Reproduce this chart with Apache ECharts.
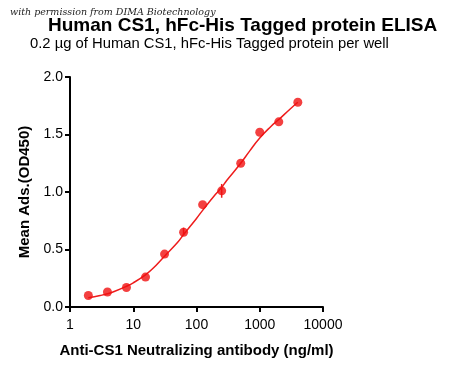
<!DOCTYPE html>
<html><head><meta charset="utf-8">
<script src="https://cdn.jsdelivr.net/npm/echarts@6/dist/echarts.min.js"></script>
<style>html,body{margin:0;padding:0;background:#fff}#c{width:450px;height:372px}</style>
</head><body><div id="c"></div>
<script>
var concentrations = [1.95, 3.91, 7.81, 15.63, 31.25, 62.5, 125, 250, 500, 1000, 2000, 4000];
var meanOD = [0.10, 0.13, 0.17, 0.26, 0.46, 0.65, 0.89, 1.01, 1.25, 1.52, 1.61, 1.78];
var errLow = [0.10, 0.13, 0.17, 0.26, 0.46, 0.63, 0.89, 0.95, 1.25, 1.52, 1.61, 1.78];
var errHigh = [0.10, 0.13, 0.17, 0.26, 0.46, 0.69, 0.89, 1.07, 1.25, 1.52, 1.61, 1.78];
var curveX = [1.95, 3, 3.9, 5, 7.8, 10, 15.6, 20, 31, 50, 62.5, 100, 125, 200, 250, 300, 500, 700, 1000, 1500, 2000, 3000, 4000];
var curveY = [0.08, 0.10, 0.115, 0.135, 0.18, 0.21, 0.28, 0.33, 0.44, 0.56, 0.63, 0.77, 0.84, 0.98, 1.04, 1.10, 1.25, 1.36, 1.47, 1.57, 1.63, 1.72, 1.78];
var xTicks = [1, 10, 100, 1000, 10000];
var yTicks = [0.0, 0.5, 1.0, 1.5, 2.0];

var chart = echarts.init(document.getElementById('c'));
var font = 'Liberation Sans, Arial, sans-serif';
chart.setOption({
  animation: false,
  graphic: [
    {type:'text', left: 10, top: 8, style:{text:'with permission from DIMA Biotechnology', font:'italic 9.5px "DejaVu Serif", serif', fill:'#222'}},
    {type:'text', left: 48, top: 16, style:{text:'Human CS1, hFc-His Tagged protein ELISA', font:'bold 19px "Liberation Sans", Arial, sans-serif', fill:'#000'}},
    {type:'text', left: 30, top: 36, style:{text:'0.2 \u00b5g of Human CS1, hFc-His Tagged protein per well', font:'14.8px "Liberation Sans", Arial, sans-serif', fill:'#000'}}
  ],
  grid: {left: 70, right: 127, top: 77, bottom: 65, containLabel: false},
  xAxis: {
    type: 'log', logBase: 10, min: 1, max: 10000,
    name: 'Anti-CS1 Neutralizing antibody (ng/ml)', nameLocation: 'middle', nameGap: 36,
    nameTextStyle: {fontFamily: font, fontWeight: 'bold', fontSize: 15, color: '#000'},
    axisLine: {lineStyle: {color: '#000', width: 2}},
    axisTick: {show: true, length: 5, lineStyle: {color: '#000', width: 2}},
    minorTick: {show: false},
    splitLine: {show: false},
    axisLabel: {fontFamily: font, fontSize: 14, color: '#000', margin: 11,
      formatter: function(v){ return xTicks.indexOf(Math.round(v)) >= 0 ? String(Math.round(v)) : ''; }}
  },
  yAxis: {
    type: 'value', min: 0, max: 2, interval: 0.5,
    name: 'Mean Ads.(OD450)', nameLocation: 'middle', nameGap: 37, nameRotate: 90,
    nameTextStyle: {fontFamily: font, fontWeight: 'bold', fontSize: 15, color: '#000'},
    axisLine: {show: true, lineStyle: {color: '#000', width: 2}},
    axisTick: {show: true, length: 5, lineStyle: {color: '#000', width: 2}},
    splitLine: {show: false},
    axisLabel: {fontFamily: font, fontSize: 14, color: '#000', margin: 7,
      formatter: function(v){ return yTicks.indexOf(v) >= 0 ? v.toFixed(1) : ''; }}
  },
  series: [
    {type: 'line', smooth: true, symbol: 'none', lineStyle: {color: '#ee1c1c', width: 1.5},
     data: curveX.map(function(x, i){ return [x, curveY[i]]; }), z: 2},
    {type: 'custom', z: 3,
     data: concentrations.map(function(x, i){ return [x, errLow[i], errHigh[i]]; }),
     renderItem: function(params, api){
       var lo = api.coord([api.value(0), api.value(1)]);
       var hi = api.coord([api.value(0), api.value(2)]);
       return {type: 'line', shape: {x1: lo[0], y1: lo[1], x2: hi[0], y2: hi[1]}, style: {stroke: '#ee1c1c', lineWidth: 1.5}};
     }},
    {type: 'scatter', symbol: 'circle', symbolSize: 9, itemStyle: {color: '#f01010'},
     data: concentrations.map(function(x, i){ return [x, meanOD[i]]; }), z: 4}
  ]
});
</script></body></html>
